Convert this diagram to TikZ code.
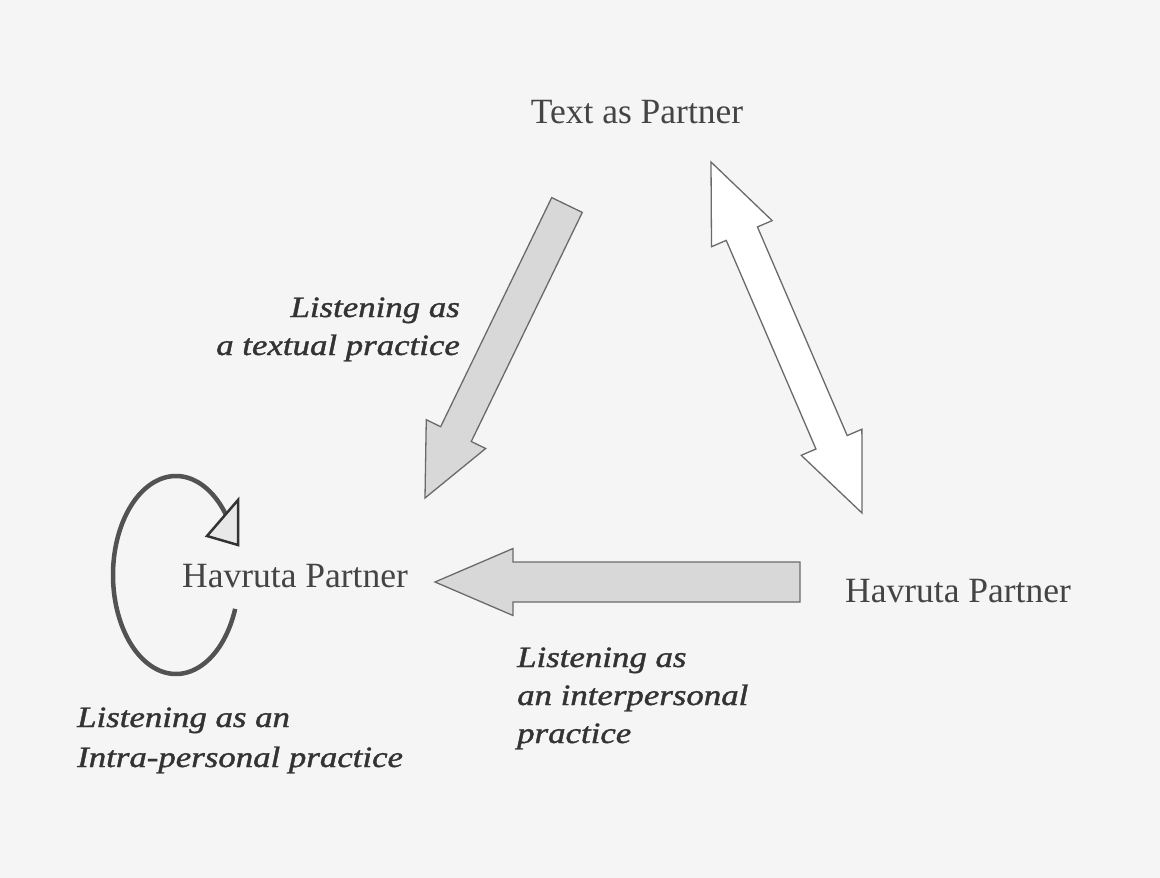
\documentclass[tikz,border=0pt]{standalone}
\usepackage{fontspec}
\setmainfont{Liberation Serif}
\newfontfamily\labfont{Liberation Serif}[ItalicFeatures={FakeBold=1.2}]
\usepackage{graphicx}
\usetikzlibrary{calc}
\definecolor{bg}{HTML}{F5F5F5}
\definecolor{ink}{HTML}{444444}
\definecolor{dink}{HTML}{333333}
\definecolor{edge}{HTML}{6A6A6A}
\definecolor{afill}{HTML}{D8D8D8}
\definecolor{loopc}{HTML}{525252}
\newcommand{\wide}[1]{\scalebox{1.18}[1]{#1}}
\tikzset{
  up/.style={font=\fontsize{35.5}{42}\selectfont, text=ink, inner sep=0pt},
  lab/.style={font=\labfont\fontsize{29.5}{35}\selectfont\itshape, text=dink, inner sep=0pt},
  garrow/.style={draw=edge, fill=afill, line width=1.3pt, line join=miter},
  warrow/.style={draw=edge, fill=white, line width=1.3pt, line join=miter},
  loopline/.style={draw=loopc, line width=4.5pt},
  loophead/.style={draw=dink, fill=afill!60!white, line width=2.5pt, line join=miter},
}
\begin{document}
\begin{tikzpicture}[x=1pt,y=-1pt]
\fill[bg] (0,0) rectangle (1160,878);
\useasboundingbox (0,0) rectangle (1160,878);

% main nodes
\node[up, anchor=base] (textp) at (637,123) {Text as Partner};
\node[up, anchor=base west] (hr) at (845,602) {Havruta Partner};
\node[up, anchor=base west] (hl) at (182,587) {Havruta Partner};

% arrow end points
\coordinate (g1) at (567,205); \coordinate (g2) at (425,498);
\coordinate (d1) at (711,162); \coordinate (d2) at (862,513);
\coordinate (h1) at (800,582); \coordinate (h2) at (435,582);

% grey arrow: text -> left partner
\coordinate (gn) at ($(g2)!71pt!(g1)$);
\draw[garrow] ($(g1)!17pt!90:(g2)$) -- ($(gn)!17pt!90:(g2)$) -- ($(gn)!33pt!90:(g2)$) -- (g2)
  -- ($(gn)!33pt!-90:(g2)$) -- ($(gn)!17pt!-90:(g2)$) -- ($(g1)!17pt!-90:(g2)$) -- cycle;

% horizontal grey arrow: right partner -> left partner
\coordinate (hn) at ($(h2)!78pt!(h1)$);
\draw[garrow] ($(h1)!20pt!90:(h2)$) -- ($(hn)!20pt!90:(h2)$) -- ($(hn)!33.5pt!90:(h2)$) -- (h2)
  -- ($(hn)!33.5pt!-90:(h2)$) -- ($(hn)!20pt!-90:(h2)$) -- ($(h1)!20pt!-90:(h2)$) -- cycle;

% white double arrow: text <-> right partner
\coordinate (m1) at ($(d1)!78pt!(d2)$);
\coordinate (m2) at ($(d2)!77pt!(d1)$);
\draw[warrow] (d1) -- ($(m1)!33pt!90:(d2)$) -- ($(m1)!17pt!90:(d2)$) -- ($(m2)!17pt!90:(d2)$)
  -- ($(m2)!33pt!90:(d2)$) -- (d2) -- ($(m2)!33pt!-90:(d2)$) -- ($(m2)!17pt!-90:(d2)$)
  -- ($(m1)!17pt!-90:(d2)$) -- ($(m1)!33pt!-90:(d2)$) -- cycle;

% self loop around left partner
\draw[loopline] plot[domain=20:322, samples=120, smooth] ({176+63*cos(\x)},{575+99*sin(\x)});
\coordinate (t1) at (238,500); \coordinate (t2) at (207,536); \coordinate (t3) at (238,545);
\draw[loophead] (t1) -- (t2) -- (t3) -- cycle;

% labels
\node[lab, anchor=base east] (l1a) at (460,317) {\wide{Listening as}};
\node[lab, anchor=base east] (l1b) at (460,355) {\wide{a textual practice}};
\node[lab, anchor=base west] (l2a) at (517,667) {\wide{Listening as}};
\node[lab, anchor=base west] (l2b) at (517,705) {\wide{an interpersonal}};
\node[lab, anchor=base west] (l2c) at (517,743) {\wide{practice}};
\node[lab, anchor=base west] (l3a) at (77,727) {\wide{Listening as an}};
\node[lab, anchor=base west] (l3b) at (77,767) {\wide{Intra-personal practice}};
\end{tikzpicture}
\end{document}
